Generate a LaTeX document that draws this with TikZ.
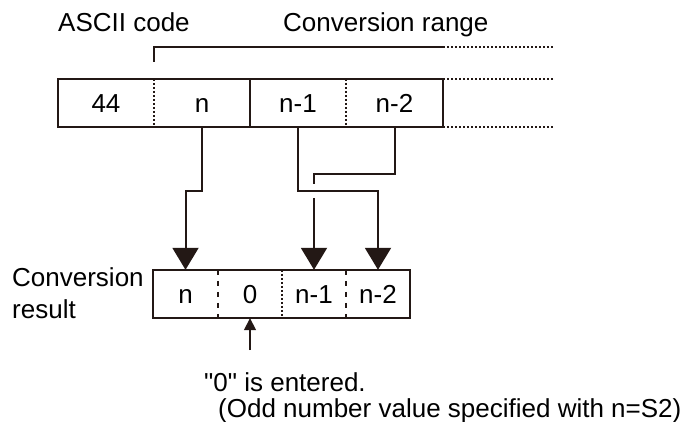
\documentclass[tikz,border=0pt]{standalone}
\usepackage{fontspec}
\setmainfont{Liberation Sans}[Ligatures=TeXOff]
\usetikzlibrary{arrows.meta,calc}
\definecolor{ink}{RGB}{35,24,21}
\begin{document}
\begin{tikzpicture}[x=1pt,y=-1pt,
  txt/.style={font=\fontsize{26}{32}\selectfont, inner sep=0pt, text=black},
  cell/.style={txt, minimum height=48pt, text height=18.6pt, text depth=0pt},
  topcell/.style={cell, minimum width=96pt},
  botcell/.style={cell, minimum width=64pt},
  frame/.style={draw=ink, line width=2pt},
  fine/.style={draw=ink, line width=1.5pt, dash pattern=on 2pt off 2pt},
  coarse/.style={draw=ink, line width=1.5pt, dash pattern=on 5pt off 6pt},
  wire/.style={draw=ink, line width=2pt},
  bigarrow/.style={wire, -{Triangle[width=26pt,length=22pt]}},
  smallarrow/.style={wire, line width=1.6pt, -{Triangle[width=12pt,length=12pt]}}]
\useasboundingbox (0,0) rectangle (696,422);

% labels
\node[txt, anchor=base west] (ascii) at (58,32) {ASCII code};
\node[txt, anchor=base west] (range) at (283,32) {Conversion range};
\node[txt, anchor=base west] (conv1) at (12,286) {Conversion};
\node[txt, anchor=base west] (conv2) at (12,318) {result};
\node[txt, anchor=base west] (note1) at (204,391) {"0" is entered.};
\node[txt, anchor=base west] (note2) at (218,417) {(Odd number value specified with n=S2)};

% top row
\node[topcell] (t1) at (106,103) {44};
\node[topcell] (t2) at (202,103) {n};
\node[topcell] (t3) at (298,103) {n-1};
\node[topcell, minimum width=97pt] (t4) at (394.5,103) {n-2};
\draw[frame] (t1.north west) rectangle (t4.south east);
\draw[frame] (t3.north west) -- (t3.south west);
\draw[fine] (t2.north west) -- (t2.south west);
\draw[fine] (t4.north west) -- (t4.south west);
\draw[fine] (t4.north east) -- ++(111,0);
\draw[fine] (t4.south east) -- ++(111,0);

% bracket
\coordinate (bstart) at ($(t2.north west)+(0,-17)$);
\coordinate (bend) at (443,47);
\draw[wire] (bstart) |- (bend);
\draw[fine] (bend) -- ++(111,0);

% bottom row
\node[botcell] (b1) at (185.5,294) {n};
\node[botcell] (b2) at (250,294) {0};
\node[botcell] (b3) at (314,294) {n-1};
\node[botcell] (b4) at (378,294) {n-2};
\draw[frame] (b1.north west) rectangle (b4.south east);
\draw[coarse] (b2.north west) -- (b2.south west);
\draw[fine] (b3.north west) -- (b3.south west);
\draw[coarse] (b4.north west) -- (b4.south west);

% connectors
\draw[bigarrow] (t2.south) -- ++(0,64) -| (b1.north);
\draw[bigarrow] (t3.south) -- ++(0,64) -| (b4.north);
\coordinate (gapA) at ($(b3.north)+(0,-86)$);
\coordinate (gapB) at ($(b3.north)+(0,-72)$);
\draw[wire] (t4.south) -- ++(0,47) -| (gapA);
\draw[bigarrow] (gapB) -- (b3.north);

% small arrow
\coordinate (notearrow) at ($(b2.south)+(0,32)$);
\draw[smallarrow] (notearrow) -- (b2.south);
\end{tikzpicture}
\end{document}
